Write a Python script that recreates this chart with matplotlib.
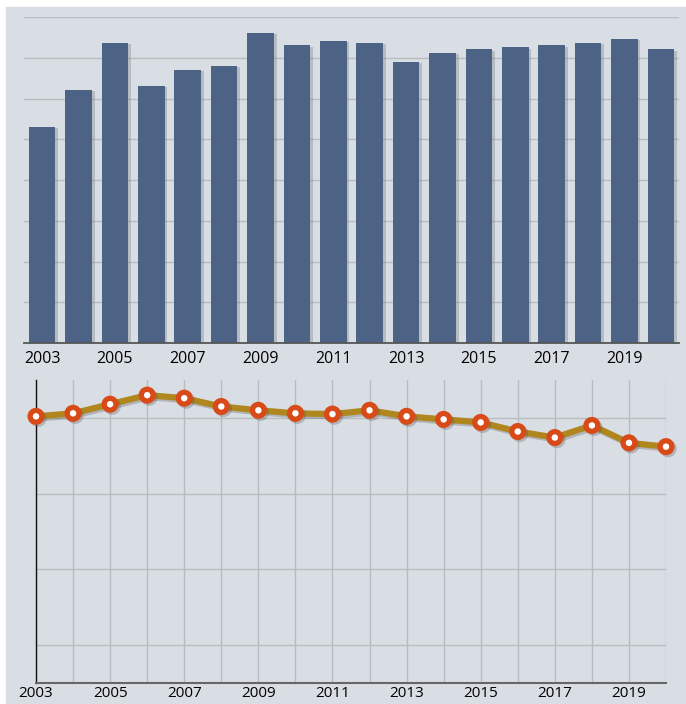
import matplotlib.pyplot as plt
import matplotlib.patheffects as pe
from matplotlib.patches import Rectangle
import numpy as np

years = list(range(2003, 2021))
bar_values = [5.31, 6.21, 7.36, 6.31, 6.71, 6.80, 7.61, 7.31, 7.41,
              7.36, 6.90, 7.12, 7.21, 7.26, 7.31, 7.36, 7.46, 7.21]
line_values = [4.02, 4.06, 4.18, 4.30, 4.26, 4.15, 4.10, 4.06, 4.05,
               4.10, 4.02, 3.98, 3.94, 3.82, 3.74, 3.90, 3.67, 3.62]
tick_years = [2003, 2005, 2007, 2009, 2011, 2013, 2015, 2017, 2019]

bg = '#d9dee4'
bar_color = '#4d6385'
grid_color = '#b9bcc0'

plt.rcParams['font.family'] = ['Open Sans', 'DejaVu Sans']

fig = plt.figure(figsize=(6.86, 7.04), dpi=100, facecolor='white')
fig.patches.append(Rectangle((6 / 686, 0), 1, 1 - 7 / 704,
                             transform=fig.transFigure, color=bg, zorder=-10))

# top: bars
ax1 = fig.add_axes([24 / 686, 1 - 343 / 704, 655 / 686, 326 / 704])
ax1.set_facecolor('none')
ax1.bar(years, bar_values, width=0.73, color=bar_color, zorder=3,
        path_effects=[pe.SimplePatchShadow(offset=(2, -1), shadow_rgbFace='#6a6f78', alpha=0.3),
                      pe.Normal()])
ax1.set_xlim(2002.5, 2020.5)
ax1.set_ylim(0, 8)
ax1.set_yticks(np.arange(1, 9))
ax1.yaxis.grid(True, color=grid_color, linewidth=1.0, zorder=0)
ax1.set_yticklabels([])
ax1.tick_params(axis='y', length=0)
ax1.set_xticks(tick_years)
ax1.set_xticklabels([str(y) for y in tick_years], fontsize=11.5)
ax1.tick_params(axis='x', length=0, pad=6)
for s in ['top', 'right', 'left']:
    ax1.spines[s].set_visible(False)
ax1.spines['bottom'].set_color('#555555')
ax1.spines['bottom'].set_linewidth(1.3)
ax1.spines['bottom'].set_zorder(4)

# bottom: line
ax2 = fig.add_axes([36 / 686, 1 - 683 / 704, 630 / 686, 303 / 704])
ax2.set_facecolor('none')
ax2.plot(years, line_values, color='#b0861e', linewidth=4.5, zorder=3,
         marker='o', markersize=8.5, markerfacecolor='white',
         markeredgecolor='#d84a17', markeredgewidth=3.8, clip_on=False,
         path_effects=[pe.SimpleLineShadow(offset=(1.5, -1.5), shadow_color='#555555', alpha=0.3),
                       pe.Normal()])
ax2.set_xlim(2003, 2020)
ax2.set_ylim(0.5, 4.5)
ax2.set_yticks([1, 2, 3, 4])
ax2.grid(True, color=grid_color, linewidth=1.0, zorder=0)
ax2.set_yticklabels([])
ax2.tick_params(axis='y', length=0)
ax2.set_xticks(years)
ax2.set_xticklabels([str(y) if y in tick_years else '' for y in years], fontsize=11)
ax2.tick_params(axis='x', length=0, pad=2)
for s in ['top', 'right']:
    ax2.spines[s].set_visible(False)
ax2.spines['left'].set_color('#111111')
ax2.spines['left'].set_linewidth(1.0)
ax2.spines['bottom'].set_color('#666666')
ax2.spines['bottom'].set_linewidth(1.5)

fig.savefig('out.png', dpi=100, facecolor='white')
